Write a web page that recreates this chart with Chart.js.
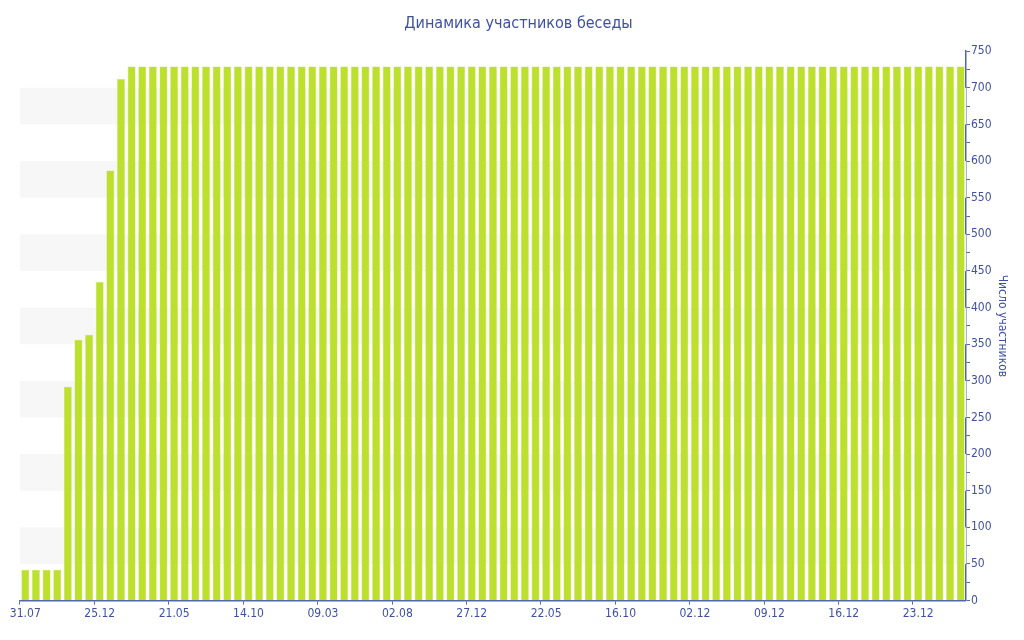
<!DOCTYPE html>
<html>
<head>
<meta charset="utf-8">
<script src="https://cdn.jsdelivr.net/npm/chart.js@4"></script>
<style>
  html, body { margin: 0; padding: 0; background: #fff; }
  #wrap { width: 1024px; height: 640px; }
</style>
</head>
<body>
<div id="wrap"><canvas id="barCanvas"></canvas></div>
<script>
// tick labels shown every 7th bar
const tickLabels = ["31.07", "25.12", "21.05", "14.10", "09.03", "02.08", "27.12",
    "22.05", "16.10", "02.12", "09.12", "16.12", "23.12"];
const tickEvery = 7;

// members count per period (89 bars)
const growthValues = [42, 42, 42, 42, 292, 356, 363, 435, 587, 712];
const plateauValues = [
    729, 729, 729, 729, 729, 729, 729, 729, 729, 729,
    729, 729, 729, 729, 729, 729, 729, 729, 729, 729,
    729, 729, 729, 729, 729, 729, 729, 729, 729, 729,
    729, 729, 729, 729, 729, 729, 729, 729, 729, 729,
    729, 729, 729, 729, 729, 729, 729, 729, 729, 729,
    729, 729, 729, 729, 729, 729, 729, 729, 729, 729,
    729, 729, 729, 729, 729, 729, 729, 729, 729, 729,
    729, 729, 729, 729, 729, 729, 729, 729, 729
];
const memberValues = growthValues.concat(plateauValues);

const categories = memberValues.map((v, i) =>
    i % tickEvery === 0 ? (tickLabels[i / tickEvery] || "") : "");

const textColor = "#3e51a0";
const axisColor = "#5265ad";
const fontFamily = "'DejaVu Sans Condensed', 'DejaVu Sans', sans-serif";

// light horizontal bands behind the bars
const bandPlugin = {
    id: "bands",
    beforeDatasetsDraw(chart) {
        const { ctx, chartArea, scales } = chart;
        const y = scales.y;
        ctx.save();
        ctx.fillStyle = "#f7f7f7";
        for (let v = 50; v < 750; v += 100) {
            const top = y.getPixelForValue(v + 50);
            const bottom = y.getPixelForValue(v);
            ctx.fillRect(chartArea.left, top, chartArea.right - chartArea.left, bottom - top);
        }
        ctx.restore();
    }
};

const barCanvas = document.getElementById("barCanvas");

const barChart = new Chart(barCanvas, {
    type: "bar",
    data: {
        labels: categories,
        datasets: [{
            data: memberValues,
            backgroundColor: "#bde02f",
            borderColor: "#c6e452",
            borderWidth: 0.5,
            barPercentage: 0.74,
            categoryPercentage: 1
        }]
    },
    plugins: [bandPlugin],
    options: {
        responsive: true,
        maintainAspectRatio: false,
        animation: false,
        layout: {
            padding: { left: 20, right: 7, top: 0, bottom: 17 }
        },
        plugins: {
            legend: { display: false },
            tooltip: { enabled: false },
            title: {
                display: true,
                text: "Динамика участников беседы",
                color: textColor,
                font: { family: fontFamily, size: 16, weight: "normal" },
                padding: { top: 14, bottom: 18 }
            }
        },
        scales: {
            x: {
                offset: true,
                border: { color: axisColor, width: 1.5 },
                grid: {
                    drawOnChartArea: false,
                    tickLength: 4,
                    color: (ctx) => ctx.index % tickEvery === 0 ? axisColor : "rgba(0,0,0,0)"
                },
                ticks: {
                    autoSkip: false,
                    maxRotation: 0,
                    padding: 2,
                    color: textColor,
                    font: { family: fontFamily, size: 12 }
                }
            },
            y: {
                position: "right",
                min: 0,
                max: 750,
                border: { color: axisColor, width: 1.5 },
                grid: {
                    drawOnChartArea: false,
                    tickLength: 4,
                    color: axisColor
                },
                ticks: {
                    stepSize: 25,
                    autoSkip: false,
                    padding: 1,
                    color: textColor,
                    font: { family: fontFamily, size: 12 },
                    callback: (v) => v % 50 === 0 ? v : ""
                },
                title: {
                    display: true,
                    text: "Число участников",
                    color: textColor,
                    font: { family: fontFamily, size: 12 },
                    padding: { top: 8, bottom: 2 }
                }
            }
        }
    }
});
</script>
</body>
</html>
